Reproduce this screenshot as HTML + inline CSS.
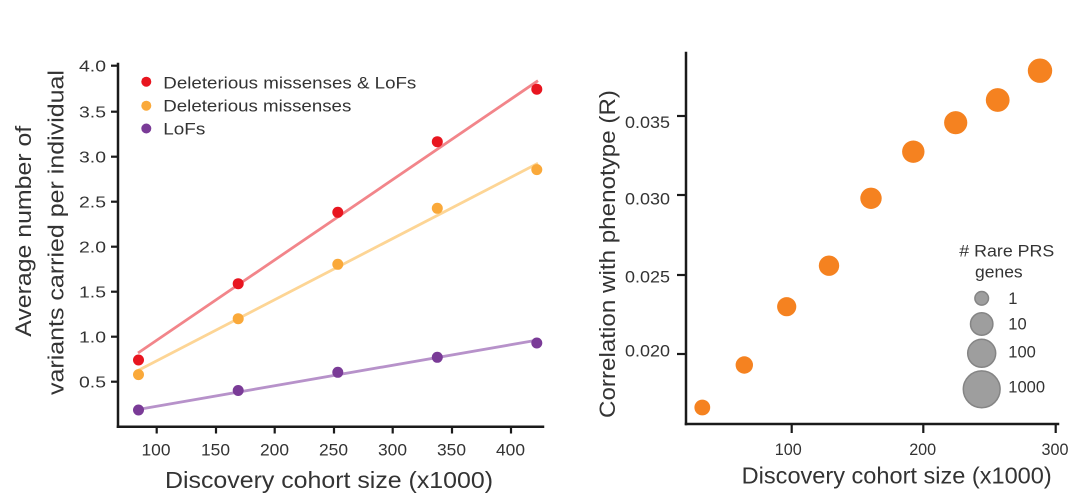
<!DOCTYPE html>
<html>
<head>
<meta charset="utf-8">
<style>
  html, body { margin: 0; padding: 0; background: #ffffff; }
  body { width: 1080px; height: 498px; overflow: hidden; }
  svg { display: block; }
  text { font-family: "Liberation Sans", Arial, sans-serif; fill: #333333; }
</style>
</head>
<body>
<svg width="1080" height="498" viewBox="0 0 1080 498" xmlns="http://www.w3.org/2000/svg">
  <rect x="0" y="0" width="1080" height="498" fill="#ffffff"/>

  <!-- ================= LEFT CHART ================= -->
  <!-- axes -->
  <g stroke="#1a1a1a" stroke-width="2.5" fill="none" stroke-linecap="square">
    <line x1="118" y1="64" x2="118" y2="426.7"/>
    <line x1="118" y1="426.7" x2="543" y2="426.7"/>
  </g>
  <!-- y ticks -->
  <g stroke="#1a1a1a" stroke-width="2.2">
    <line x1="111" y1="65.7" x2="118" y2="65.7"/>
    <line x1="111" y1="111.7" x2="118" y2="111.7"/>
    <line x1="111" y1="156.7" x2="118" y2="156.7"/>
    <line x1="111" y1="201.7" x2="118" y2="201.7"/>
    <line x1="111" y1="246.7" x2="118" y2="246.7"/>
    <line x1="111" y1="291.7" x2="118" y2="291.7"/>
    <line x1="111" y1="336.7" x2="118" y2="336.7"/>
    <line x1="111" y1="381.7" x2="118" y2="381.7"/>
  </g>
  <!-- x ticks -->
  <g stroke="#1a1a1a" stroke-width="2.2">
    <line x1="156.7" y1="426.7" x2="156.7" y2="433.5"/>
    <line x1="216" y1="426.7" x2="216" y2="433.5"/>
    <line x1="274.7" y1="426.7" x2="274.7" y2="433.5"/>
    <line x1="334" y1="426.7" x2="334" y2="433.5"/>
    <line x1="392.7" y1="426.7" x2="392.7" y2="433.5"/>
    <line x1="452" y1="426.7" x2="452" y2="433.5"/>
    <line x1="511" y1="426.7" x2="511" y2="433.5"/>
  </g>
  <!-- y tick labels -->
  <g font-size="16" text-anchor="end">
    <text x="106" y="71.3" textLength="27" lengthAdjust="spacingAndGlyphs">4.0</text>
    <text x="106" y="117.3" textLength="27" lengthAdjust="spacingAndGlyphs">3.5</text>
    <text x="106" y="162.3" textLength="27" lengthAdjust="spacingAndGlyphs">3.0</text>
    <text x="106" y="207.3" textLength="27" lengthAdjust="spacingAndGlyphs">2.5</text>
    <text x="106" y="252.3" textLength="27" lengthAdjust="spacingAndGlyphs">2.0</text>
    <text x="106" y="297.3" textLength="27" lengthAdjust="spacingAndGlyphs">1.5</text>
    <text x="106" y="342.3" textLength="27" lengthAdjust="spacingAndGlyphs">1.0</text>
    <text x="106" y="387.3" textLength="27" lengthAdjust="spacingAndGlyphs">0.5</text>
  </g>
  <!-- x tick labels -->
  <g font-size="16.5" text-anchor="middle">
    <text x="156" y="455.7" textLength="29" lengthAdjust="spacingAndGlyphs">100</text>
    <text x="215.5" y="455.7" textLength="29" lengthAdjust="spacingAndGlyphs">150</text>
    <text x="274.5" y="455.7" textLength="29" lengthAdjust="spacingAndGlyphs">200</text>
    <text x="333.5" y="455.7" textLength="29" lengthAdjust="spacingAndGlyphs">250</text>
    <text x="392.5" y="455.7" textLength="29" lengthAdjust="spacingAndGlyphs">300</text>
    <text x="451.5" y="455.7" textLength="29" lengthAdjust="spacingAndGlyphs">350</text>
    <text x="510.5" y="455.7" textLength="29" lengthAdjust="spacingAndGlyphs">400</text>
  </g>
  <!-- x title -->
  <text x="165" y="488" font-size="23.5" textLength="328" lengthAdjust="spacingAndGlyphs">Discovery cohort size (x1000)</text>
  <!-- y title (two lines) -->
  <text transform="translate(31,231.3) rotate(-90)" font-size="22.5" text-anchor="middle" textLength="211" lengthAdjust="spacingAndGlyphs">Average number of</text>
  <text transform="translate(63.3,232.5) rotate(-90)" font-size="22.5" text-anchor="middle" textLength="325" lengthAdjust="spacingAndGlyphs">variants carried per individual</text>

  <!-- fit lines -->
  <g stroke-width="2.8" stroke-linecap="butt" fill="none">
    <line x1="138" y1="353" x2="538" y2="80.7" stroke="#f2858a"/>
    <line x1="138" y1="370.5" x2="538" y2="163.3" stroke="#fdd595"/>
    <line x1="138" y1="409.5" x2="538" y2="340" stroke="#b792ca"/>
  </g>
  <!-- points -->
  <g fill="#e8151f">
    <circle cx="138.5" cy="360" r="5.5"/>
    <circle cx="238.2" cy="283.7" r="5.5"/>
    <circle cx="337.8" cy="212.3" r="5.5"/>
    <circle cx="437.3" cy="141.7" r="5.5"/>
    <circle cx="536.8" cy="89.2" r="5.5"/>
  </g>
  <g fill="#faa93a">
    <circle cx="138.5" cy="374.6" r="5.5"/>
    <circle cx="238.2" cy="318.7" r="5.5"/>
    <circle cx="337.8" cy="264.3" r="5.5"/>
    <circle cx="437.3" cy="208.3" r="5.5"/>
    <circle cx="536.8" cy="169.6" r="5.5"/>
  </g>
  <g fill="#7a3b97">
    <circle cx="138.5" cy="410" r="5.5"/>
    <circle cx="238.2" cy="390.5" r="5.5"/>
    <circle cx="337.8" cy="372.3" r="5.5"/>
    <circle cx="437.3" cy="357.3" r="5.5"/>
    <circle cx="536.8" cy="343" r="5.5"/>
  </g>

  <!-- legend -->
  <circle cx="146.3" cy="81.7" r="5" fill="#e8151f"/>
  <circle cx="146.3" cy="105.7" r="5" fill="#faa93a"/>
  <circle cx="146.3" cy="128.5" r="5" fill="#7a3b97"/>
  <g font-size="16.5">
    <text x="163.3" y="88.3" textLength="253" lengthAdjust="spacingAndGlyphs">Deleterious missenses &amp; LoFs</text>
    <text x="163.3" y="111.7" textLength="188" lengthAdjust="spacingAndGlyphs">Deleterious missenses</text>
    <text x="163.3" y="134.3" textLength="42" lengthAdjust="spacingAndGlyphs">LoFs</text>
  </g>

  <!-- ================= RIGHT CHART ================= -->
  <g stroke="#1a1a1a" stroke-width="2.5" fill="none" stroke-linecap="square">
    <line x1="686" y1="53" x2="686" y2="424"/>
    <line x1="686" y1="424" x2="1058" y2="424"/>
  </g>
  <!-- y ticks -->
  <g stroke="#1a1a1a" stroke-width="2.2">
    <line x1="677" y1="116" x2="686" y2="116"/>
    <line x1="677" y1="195" x2="686" y2="195"/>
    <line x1="677" y1="275" x2="686" y2="275"/>
    <line x1="677" y1="354" x2="686" y2="354"/>
  </g>
  <!-- x ticks -->
  <g stroke="#1a1a1a" stroke-width="2.2">
    <line x1="791.7" y1="424" x2="791.7" y2="433"/>
    <line x1="923.3" y1="424" x2="923.3" y2="433"/>
    <line x1="1055.7" y1="424" x2="1055.7" y2="433"/>
  </g>
  <!-- y tick labels -->
  <g font-size="16.5" text-anchor="end">
    <text x="670" y="128.2" textLength="45" lengthAdjust="spacingAndGlyphs">0.035</text>
    <text x="670" y="204.3" textLength="45" lengthAdjust="spacingAndGlyphs">0.030</text>
    <text x="670" y="282.3" textLength="45" lengthAdjust="spacingAndGlyphs">0.025</text>
    <text x="670" y="356.3" textLength="45" lengthAdjust="spacingAndGlyphs">0.020</text>
  </g>
  <!-- x tick labels -->
  <g font-size="16.5" text-anchor="middle">
    <text x="788.3" y="455" textLength="27" lengthAdjust="spacingAndGlyphs">100</text>
    <text x="922.7" y="455" textLength="27" lengthAdjust="spacingAndGlyphs">200</text>
    <text x="1055" y="455" textLength="27" lengthAdjust="spacingAndGlyphs">300</text>
  </g>
  <!-- x title -->
  <text x="741.7" y="483.3" font-size="23" textLength="310" lengthAdjust="spacingAndGlyphs">Discovery cohort size (x1000)</text>
  <!-- y title -->
  <text transform="translate(615,254) rotate(-90)" font-size="22.5" text-anchor="middle" textLength="328" lengthAdjust="spacingAndGlyphs">Correlation with phenotype (R)</text>

  <!-- scatter points -->
  <g fill="#f58220">
    <circle cx="702.3" cy="407.5" r="7.9"/>
    <circle cx="744.3" cy="365" r="8.7"/>
    <circle cx="786.7" cy="306.7" r="9.6"/>
    <circle cx="829" cy="265.7" r="10.2"/>
    <circle cx="871" cy="198.3" r="10.7"/>
    <circle cx="913.3" cy="151.7" r="11.2"/>
    <circle cx="955.7" cy="122.7" r="11.6"/>
    <circle cx="997.7" cy="100" r="11.9"/>
    <circle cx="1040" cy="70.7" r="12.2"/>
  </g>

  <!-- size legend -->
  <text x="959.3" y="256.7" font-size="16.5" textLength="95" lengthAdjust="spacingAndGlyphs"># Rare PRS</text>
  <text x="975" y="277.7" font-size="16.5" textLength="47.7" lengthAdjust="spacingAndGlyphs">genes</text>
  <g fill="#999999" stroke="#858585" stroke-width="1.5" fill-opacity="0.95">
    <circle cx="981.7" cy="298.3" r="6.8"/>
    <circle cx="981.7" cy="324" r="11.2"/>
    <circle cx="981.7" cy="353.3" r="14"/>
    <circle cx="981.7" cy="389.3" r="18.4"/>
  </g>
  <g font-size="16.5">
    <text x="1008.3" y="304">1</text>
    <text x="1008.3" y="329.3">10</text>
    <text x="1008.3" y="357.7">100</text>
    <text x="1008.3" y="392.7">1000</text>
  </g>
</svg>
</body>
</html>
